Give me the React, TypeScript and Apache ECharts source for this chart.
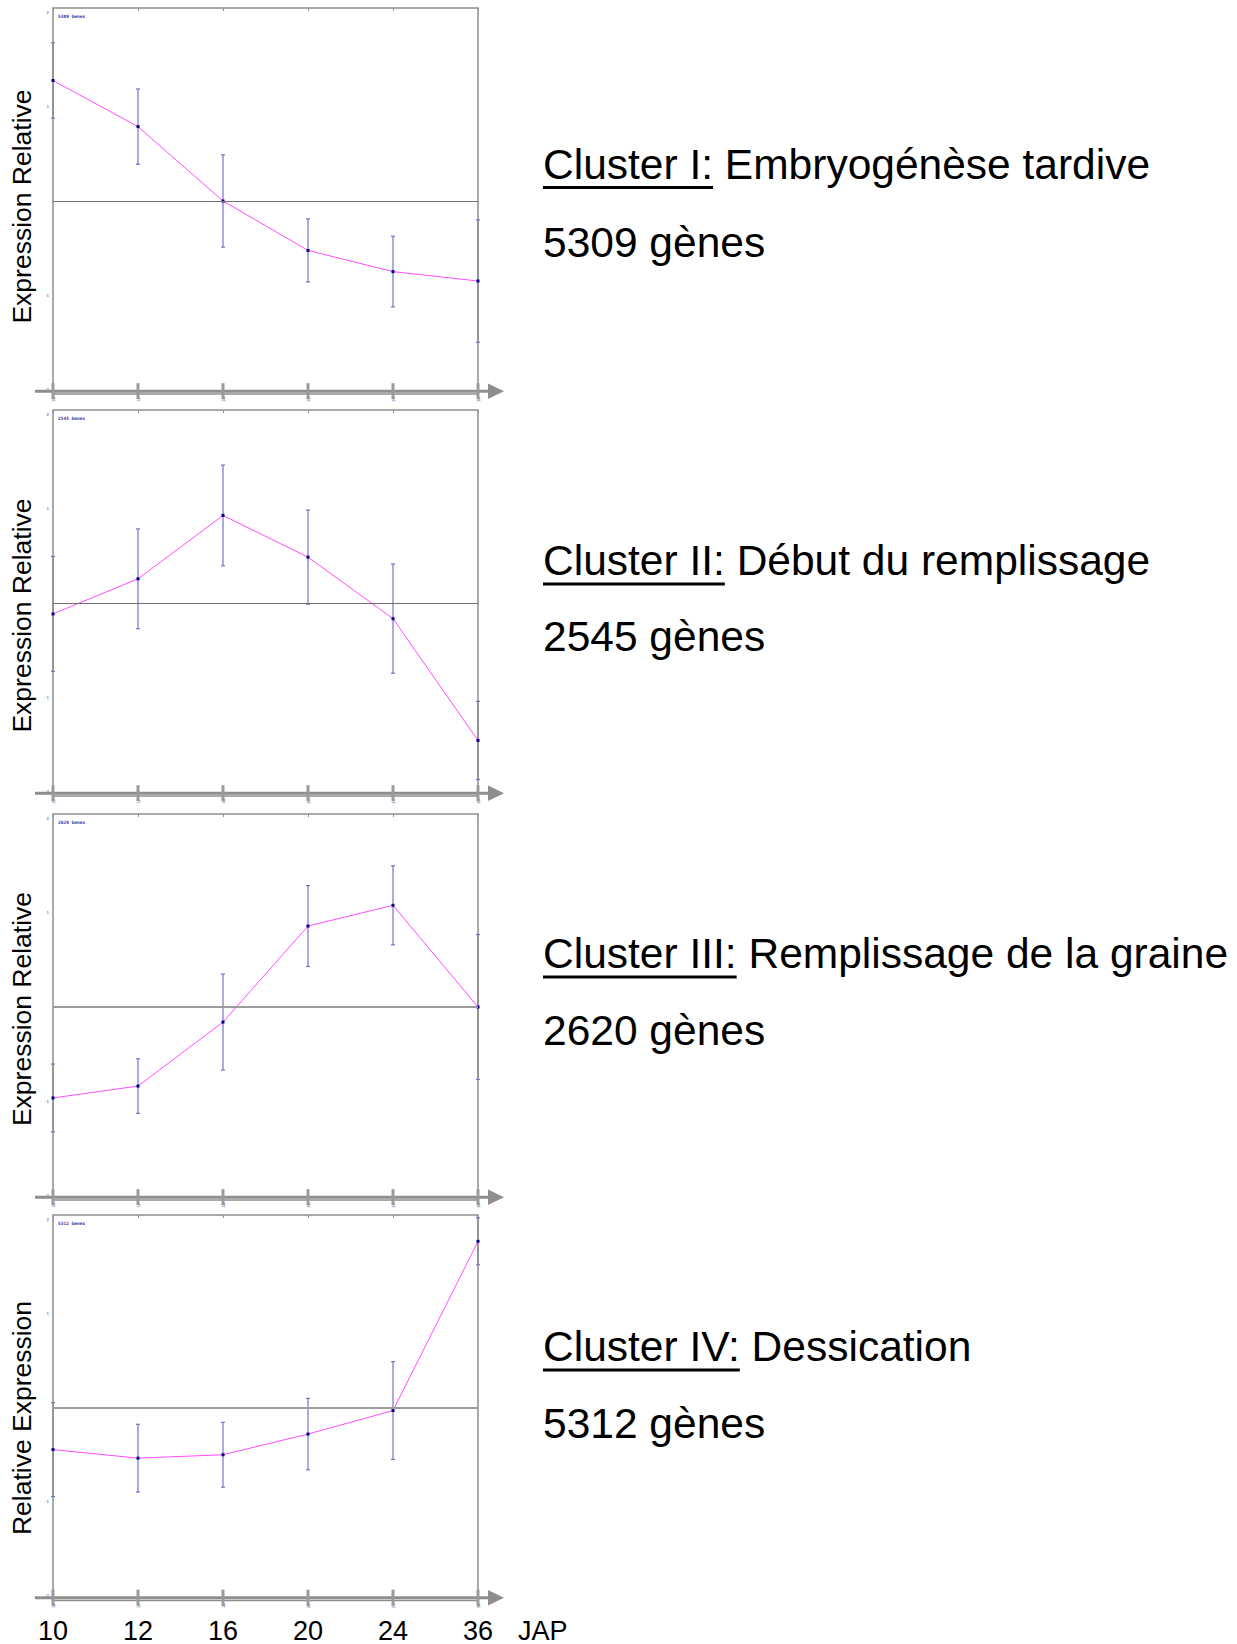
import React, { useEffect, useRef } from 'react';
import * as echarts from 'echarts';

// Sampling days (jours après pollinisation)
const CATEGORIES = ['10', '12', '16', '20', '24', '36'];
const X_UNIT = 'JAP';

// Mean relative expression and standard deviation per cluster
const C1_MEAN = [1.28, 0.79, 0.0, -0.525, -0.75, -0.85];
const C1_SD = [0.4, 0.4, 0.49, 0.335, 0.375, 0.65];
const C2_MEAN = [-0.116, 0.257, 0.93, 0.487, -0.166, -1.46];
const C2_SD = [0.61, 0.53, 0.535, 0.5, 0.58, 0.415];
const C3_MEAN = [-0.966, -0.84, -0.16, 0.86, 1.08, 0.0];
const C3_SD = [0.36, 0.29, 0.51, 0.43, 0.42, 0.77];
const C4_MEAN = [-0.445, -0.536, -0.5, -0.28, -0.03, 1.77];
const C4_SD = [0.5, 0.36, 0.345, 0.38, 0.52, 0.25];

const Y_TICKS = [-2, -1, 1, 2];
const GENE_COUNTS = ['5309', '2545', '2620', '5312'];
const CLUSTER_NUMERALS = ['I', 'II', 'III', 'IV'];
const CLUSTER_NAMES = [
  'Embryogénèse tardive',
  'Début du remplissage',
  'Remplissage de la graine',
  'Dessication',
];
const Y_TITLES = [
  'Expression Relative',
  'Expression Relative',
  'Expression Relative',
  'Relative Expression',
];

const MEANS = [C1_MEAN, C2_MEAN, C3_MEAN, C4_MEAN];
const SDS = [C1_SD, C2_SD, C3_SD, C4_SD];

// Layout
const W = 1237;
const H = 1644;
const GRID_LEFT = 53;
const GRID_WIDTH = 425;
const GRID_TOPS = [8, 410, 814, 1215];
const GRID_HEIGHT = 386;
const Y_MIN = -2.05;
const Y_MAX = 2.05;
const AXIS_FLOOR = -2.02;
const Y_TITLE_X = 22;
const Y_TITLE_CENTERS = [206.5, 615.5, 1009, 1418];
const LABEL_X = 543;
const CLUSTER_Y = [164, 560.5, 953.5, 1346.5];
const COUNT_Y = [242, 636.5, 1030.5, 1423];

const FONT = "'Liberation Sans', Arial, Helvetica, sans-serif";
const MONO = "'DejaVu Sans Mono', 'Liberation Mono', monospace";
const TINY_COLOR = '#3434a6';
const LINE_COLOR = '#ff4cff';
const POINT_COLOR = '#00008c';
const ERR_COLOR = '#7474c6';
const AXIS_GRAY = '#8e8e8e';
const ZERO_COLORS = ['#707070', '#707070', '#9c9c9c', '#9c9c9c'];
const ZERO_WIDTHS = [1.2, 1.2, 2, 2];

function textWidth(text: string, font: string): number {
  const ctx = document.createElement('canvas').getContext('2d');
  if (!ctx) return text.length * 20;
  ctx.font = font;
  return ctx.measureText(text).width;
}

function buildOption() {
  const grids = GRID_TOPS.map((top) => ({
    left: GRID_LEFT,
    top,
    width: GRID_WIDTH,
    height: GRID_HEIGHT,
    show: true,
    borderColor: AXIS_GRAY,
    borderWidth: 1.5,
    backgroundColor: 'transparent',
  }));

  const xAxes: any[] = [];
  GRID_TOPS.forEach((_, i) => {
    // bottom axis: tiny rotated day labels under the arrow
    xAxes.push({
      gridIndex: i,
      type: 'category',
      position: 'bottom',
      boundaryGap: false,
      data: CATEGORIES,
      axisLine: { show: false },
      axisTick: { show: false },
      splitLine: { show: false },
      axisLabel: { fontSize: 4, color: TINY_COLOR, rotate: 90, margin: 3, fontFamily: MONO },
    });
    // top axis: short inward ticks on the frame
    xAxes.push({
      gridIndex: i,
      type: 'category',
      position: 'top',
      boundaryGap: false,
      data: CATEGORIES,
      axisLine: { show: false },
      axisTick: { show: true, inside: true, length: 3, lineStyle: { color: AXIS_GRAY, width: 1 } },
      axisLabel: { show: false },
      splitLine: { show: false },
    });
  });
  // large day labels below the last panel
  xAxes.push({
    gridIndex: 3,
    type: 'category',
    position: 'bottom',
    offset: 30,
    boundaryGap: false,
    data: CATEGORIES,
    axisLine: { show: false },
    axisTick: { show: false },
    splitLine: { show: false },
    axisLabel: {
      fontSize: 27,
      lineHeight: 22,
      color: '#000',
      fontFamily: FONT,
      margin: 0,
      verticalAlign: 'middle',
    },
    name: X_UNIT,
    nameLocation: 'end',
    nameGap: 40,
    nameTextStyle: {
      fontSize: 27,
      lineHeight: 22,
      color: '#000',
      fontFamily: FONT,
      verticalAlign: 'middle',
      align: 'left',
    },
  });

  const yAxes = GRID_TOPS.map((_, i) => ({
    gridIndex: i,
    type: 'value',
    min: Y_MIN,
    max: Y_MAX,
    axisLine: { show: false },
    axisTick: { show: false },
    splitLine: { show: false },
    axisLabel: {
      customValues: Y_TICKS,
      fontSize: 4,
      color: TINY_COLOR,
      margin: 4,
      fontFamily: MONO,
    },
  }));

  const lastIndex = CATEGORIES.length - 1;
  const series: any[] = [];
  MEANS.forEach((mean, i) => {
    const sd = SDS[i];
    // x-axis arrow with thick day ticks
    series.push({
      type: 'custom',
      xAxisIndex: i * 2,
      yAxisIndex: i,
      silent: true,
      z: 5,
      data: CATEGORIES.map((_, j) => [j, AXIS_FLOOR]),
      encode: { x: 0, y: 1 },
      renderItem: (params: any, api: any) => {
        const j = api.value(0);
        const p = api.coord([j, api.value(1)]);
        const children: any[] = [
          {
            type: 'line',
            shape: { x1: p[0], y1: p[1] - 8, x2: p[0], y2: p[1] + 8 },
            style: { stroke: '#9a9a9a', lineWidth: 3 },
          },
        ];
        if (j === 0) {
          const end = api.coord([lastIndex, api.value(1)]);
          children.unshift(
            {
              type: 'line',
              shape: { x1: p[0] - 18, y1: p[1], x2: end[0] + 12, y2: end[1] },
              style: { stroke: AXIS_GRAY, lineWidth: 3 },
            },
            {
              type: 'polygon',
              shape: {
                points: [
                  [end[0] + 10, end[1] - 7.7],
                  [end[0] + 26, end[1]],
                  [end[0] + 10, end[1] + 7.7],
                ],
              },
              style: { fill: AXIS_GRAY },
            }
          );
        }
        return { type: 'group', children };
      },
    });
    // standard deviation bars; on the frame edges the stem merges with the frame
    series.push({
      type: 'custom',
      xAxisIndex: i * 2,
      yAxisIndex: i,
      silent: true,
      z: 2,
      data: mean.map((m, j) => [j, m - sd[j], m + sd[j]]),
      encode: { x: 0, y: [1, 2] },
      renderItem: (params: any, api: any) => {
        const j = api.value(0);
        const lo = api.coord([j, api.value(1)]);
        const hi = api.coord([j, api.value(2)]);
        const cap = 2;
        const onEdge = j === 0 || j === lastIndex;
        const style = { stroke: ERR_COLOR, lineWidth: 1.2 };
        const stemStyle = onEdge ? { stroke: AXIS_GRAY, lineWidth: 1.5 } : style;
        return {
          type: 'group',
          children: [
            { type: 'line', shape: { x1: lo[0], y1: lo[1], x2: hi[0], y2: hi[1] }, style: stemStyle },
            { type: 'line', shape: { x1: lo[0] - cap, y1: lo[1], x2: lo[0] + cap, y2: lo[1] }, style },
            { type: 'line', shape: { x1: hi[0] - cap, y1: hi[1], x2: hi[0] + cap, y2: hi[1] }, style },
          ],
        };
      },
    });
    // mean profile
    series.push({
      type: 'line',
      xAxisIndex: i * 2,
      yAxisIndex: i,
      silent: true,
      z: 4,
      data: mean,
      symbol: 'rect',
      symbolSize: 3,
      showSymbol: true,
      itemStyle: { color: POINT_COLOR },
      lineStyle: { color: LINE_COLOR, width: 1 },
      markLine: {
        silent: true,
        symbol: 'none',
        label: { show: false },
        lineStyle: { color: ZERO_COLORS[i], width: ZERO_WIDTHS[i], type: 'solid' },
        data: [{ yAxis: 0 }],
      },
    });
  });

  const titles = GENE_COUNTS.map((n, i) => ({
    text: `${n} Genes`,
    left: GRID_LEFT + 5,
    top: GRID_TOPS[i] + 6,
    padding: 0,
    textStyle: { fontSize: 4.5, color: TINY_COLOR, fontFamily: MONO, fontWeight: 'bold' },
  }));

  const bigFont = `42.5px ${FONT}`;
  const graphics: any[] = [];
  Y_TITLES.forEach((t, i) => {
    graphics.push({
      type: 'text',
      x: Y_TITLE_X,
      y: Y_TITLE_CENTERS[i],
      rotation: Math.PI / 2,
      style: {
        text: t,
        fontSize: 26.5,
        fontFamily: FONT,
        fill: '#000',
        align: 'center',
        verticalAlign: 'middle',
        textAlign: 'center',
        textVerticalAlign: 'middle',
      },
    });
  });
  CLUSTER_NAMES.forEach((name, i) => {
    const head = `Cluster ${CLUSTER_NUMERALS[i]}:`;
    graphics.push({
      type: 'text',
      x: LABEL_X,
      y: CLUSTER_Y[i],
      style: {
        text: `${head} ${name}`,
        fontSize: 42.5,
        fontFamily: FONT,
        fill: '#000',
        align: 'left',
        verticalAlign: 'middle',
        textAlign: 'left',
        textVerticalAlign: 'middle',
      },
    });
    graphics.push({
      type: 'rect',
      shape: { x: LABEL_X, y: CLUSTER_Y[i] + 22, width: textWidth(head, bigFont), height: 3 },
      style: { fill: '#000' },
    });
    graphics.push({
      type: 'text',
      x: LABEL_X,
      y: COUNT_Y[i],
      style: {
        text: `${GENE_COUNTS[i]} gènes`,
        fontSize: 42.5,
        fontFamily: FONT,
        fill: '#000',
        align: 'left',
        verticalAlign: 'middle',
        textAlign: 'left',
        textVerticalAlign: 'middle',
      },
    });
  });

  return {
    animation: false,
    backgroundColor: '#ffffff',
    textStyle: { fontFamily: FONT },
    title: titles,
    grid: grids,
    xAxis: xAxes,
    yAxis: yAxes,
    series,
    graphic: graphics,
  };
}

export default function App() {
  const ref = useRef<HTMLDivElement>(null);
  useEffect(() => {
    if (!ref.current) return;
    const chart = echarts.init(ref.current, undefined, { renderer: 'svg' });
    chart.setOption(buildOption() as any);
    return () => chart.dispose();
  }, []);
  return (
    <div
      ref={ref}
      style={{ position: 'absolute', left: 0, top: 0, width: W, height: H, background: '#fff' }}
    />
  );
}
